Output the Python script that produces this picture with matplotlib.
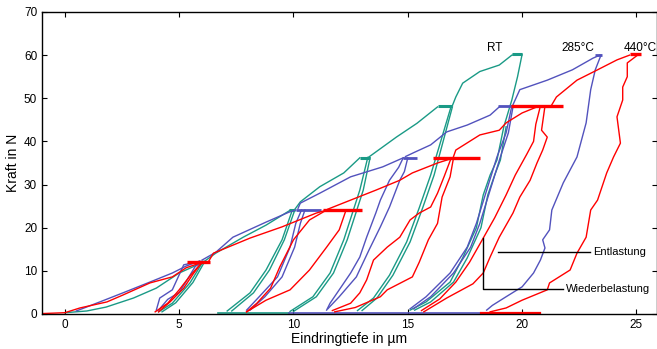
import numpy as np
import matplotlib.pyplot as plt

plt.rcParams['font.family'] = ['Liberation Sans', 'DejaVu Sans']

# -------------------------
# Data (depth in um, force in N)
# -------------------------
c_rt = '#1a9a86'
c_285 = '#5252bd'
c_440 = '#ff0000'

# RT: loading, unloading and reloading branches
rt_curves = [
    [(0, 0.3), (0.96, 0.7), (1.8, 1.6), (3.0, 3.7), (4.0, 6.0), (5.0, 9.5), (5.8, 11.4), (5.95, 12.0)],
    [(6.05, 12.2), (5.47, 7.2), (4.7, 2.5), (4.1, 0.5)],
    [(4.25, 0.5), (4.85, 2.6), (5.6, 7.3), (6.1, 12.0)],
    [(6.1, 12.2), (6.6, 14.1), (7.8, 17.8), (8.8, 20.6), (9.84, 24.0)],
    [(9.95, 24.1), (9.5, 17.2), (8.8, 10.2), (8.1, 4.9), (7.1, 0.7)],
    [(7.3, 0.7), (8.25, 4.9), (8.95, 10.2), (9.6, 17.2), (10.05, 24.0)],
    [(10.05, 24.2), (10.3, 26.0), (11.15, 29.5), (12.2, 32.7), (12.9, 36.2)],
    [(13.25, 36.3), (12.9, 28.7), (12.2, 17.2), (11.6, 9.5), (10.85, 4.0), (9.85, 0.6)],
    [(10.0, 0.6), (11.0, 4.0), (11.75, 9.5), (12.35, 17.2), (13.05, 28.7), (13.35, 36.2)],
    [(13.3, 36.4), (14.5, 41.0), (15.4, 44.2), (16.3, 48.0)],
    [(16.9, 48.2), (16.0, 32.2), (15.5, 24.6), (14.95, 16.7), (14.2, 9.0), (13.5, 3.7), (12.8, 0.8)],
    [(13.0, 0.8), (13.65, 3.7), (14.35, 9.0), (15.1, 16.7), (15.65, 24.6), (16.15, 32.2), (16.95, 48.0)],
    [(16.95, 48.3), (17.1, 50.3), (17.4, 53.5), (18.15, 56.2), (19.0, 57.7), (19.55, 60.0), (19.9, 60.2)],
    [(20.0, 60.2), (19.8, 55.0), (19.55, 49.6), (19.2, 43.4), (18.9, 35.7), (18.6, 32.2), (18.3, 27.6),
     (18.0, 20.0), (17.4, 13.0), (16.85, 7.4), (15.8, 2.8), (15.1, 0.9)],
    [(15.3, 0.9), (16.0, 2.8), (17.0, 7.4), (17.6, 13.0), (18.2, 20.0), (18.5, 27.6), (18.8, 32.2),
     (19.05, 35.7), (19.3, 43.4)],
]
rt_holds = [(5.85, 6.1, 12.1), (9.8, 10.05, 24.1), (12.9, 13.35, 36.2), (16.3, 16.95, 48.2), (19.55, 20.0, 60.2)]
rt_base = (6.7, 9.8)

# 285 degC
t285_curves = [
    [(0.5, 0.7), (1.53, 2.8), (2.54, 4.9), (3.72, 7.4), (4.7, 9.5), (5.3, 11.1), (5.9, 12.3)],
    [(5.9, 12.2), (5.2, 11.4), (4.7, 5.6), (4.15, 3.7), (4.0, 0.9)],
    [(4.1, 0.9), (4.5, 3.4), (5.0, 5.0), (5.3, 7.5), (5.7, 11.0), (6.0, 12.2)],
    [(6.0, 12.5), (6.6, 14.3), (7.35, 17.8), (8.8, 21.3), (9.8, 23.6), (10.1, 24.1)],
    [(10.35, 24.1), (10.1, 21.0), (9.85, 15.5), (9.3, 8.6), (8.5, 4.0), (7.95, 0.9)],
    [(8.1, 0.9), (8.75, 4.0), (9.5, 8.6), (10.05, 15.5), (10.3, 21.0), (10.5, 24.1)],
    [(10.2, 24.5), (10.3, 25.7), (11.15, 28.0), (12.5, 31.8), (13.9, 34.1), (14.8, 36.2)],
    [(15.0, 36.2), (14.85, 33.0), (14.65, 31.0), (14.2, 24.8), (13.8, 20.2), (13.3, 14.8), (12.75, 8.6),
     (12.0, 4.0), (11.5, 1.2)],
    [(11.45, 0.9), (11.6, 2.5), (12.0, 5.6), (12.5, 9.5), (12.9, 13.2), (13.2, 17.8), (13.6, 23.4),
     (13.8, 26.4), (14.2, 31.0), (14.6, 34.0), (14.8, 36.2)],
    [(14.9, 36.5), (15.3, 37.5), (16.0, 39.2), (16.7, 42.2), (17.6, 43.8), (18.6, 46.1), (19.0, 48.0)],
    [(19.55, 48.2), (19.3, 42.0), (18.9, 36.4), (18.45, 28.7), (18.0, 21.0), (17.6, 15.5), (16.85, 9.5),
     (15.8, 4.0), (15.1, 1.2)],
    [(15.25, 1.2), (16.0, 4.0), (17.0, 9.5), (17.75, 15.5), (18.15, 21.0), (18.6, 28.7), (19.05, 36.4),
     (19.4, 42.0), (19.6, 48.0)],
    [(19.6, 48.5), (19.9, 52.0), (21.1, 54.2), (22.2, 56.6), (23.1, 59.3), (23.4, 60.0)],
    [(23.45, 60.0), (23.2, 56.6), (23.0, 52.0), (22.8, 44.3), (22.4, 36.4), (21.8, 30.4), (21.3, 24.1),
     (21.2, 19.5), (20.9, 17.2), (21.0, 15.3), (20.8, 12.5), (20.5, 9.5), (20.0, 6.3), (19.3, 4.0),
     (18.7, 2.0), (18.45, 0.9)],
]
t285_holds = [(10.1, 11.2, 24.1), (14.8, 15.4, 36.2), (18.95, 19.6, 48.2), (23.2, 23.5, 60.0)]
t285_base = (9.8, 18.6)

# 440 degC
t440_curves = [
    [(-1.0, 0.1), (0, 0.3), (0.66, 1.4), (1.84, 2.8), (2.54, 4.4), (3.72, 7.2), (4.7, 8.6), (5.3, 10.7),
     (5.9, 11.8)],
    [(6.0, 12.0), (5.5, 9.0), (5.0, 5.6), (4.5, 2.5), (3.95, 0.5)],
    [(4.1, 0.5), (4.6, 2.8), (5.2, 6.0), (5.6, 9.2), (6.0, 12.0)],
    [(6.3, 12.3), (6.5, 14.1), (8.1, 17.6), (9.5, 20.2), (11.0, 23.4), (11.4, 24.0)],
    [(12.3, 24.1), (12.0, 19.5), (11.45, 15.5), (10.7, 10.2), (9.85, 5.6), (8.8, 3.2), (7.95, 0.5)],
    [(7.95, 0.5), (8.4, 2.5), (9.0, 6.0), (9.4, 10.9), (10.0, 17.2), (10.7, 21.8), (11.45, 24.1)],
    [(11.5, 24.3), (12.5, 26.4), (13.6, 28.7), (14.65, 31.0), (15.2, 32.7), (16.3, 35.0), (16.9, 36.0)],
    [(17.0, 36.2), (16.85, 31.8), (16.5, 27.1), (16.3, 21.0), (15.9, 17.2), (15.5, 12.0), (15.2, 8.6),
     (14.1, 5.6), (13.8, 4.0), (12.7, 1.5), (11.8, 0.5)],
    [(11.7, 0.8), (12.5, 2.5), (12.9, 4.9), (13.2, 7.9), (13.5, 12.5), (14.1, 15.5), (14.65, 17.8),
     (15.1, 21.8), (15.5, 23.4), (16.0, 24.8), (16.3, 28.0), (16.6, 32.0), (16.9, 36.2)],
    [(17.0, 36.5), (17.1, 38.0), (18.15, 41.5), (19.0, 42.6), (19.3, 44.3), (20.0, 46.6), (20.65, 48.0)],
    [(21.0, 48.2), (20.85, 42.6), (21.1, 41.0), (20.9, 38.0), (20.65, 35.0), (20.35, 31.0), (19.9, 27.1),
     (19.6, 23.4), (19.0, 17.8), (18.6, 13.2), (18.3, 9.5), (17.85, 7.0), (16.7, 3.7), (15.7, 0.5)],
    [(15.6, 0.8), (16.4, 3.5), (17.1, 7.4), (17.7, 12.0), (18.3, 17.6), (18.8, 22.3), (19.3, 27.6),
     (19.7, 32.2), (20.2, 37.0), (20.5, 40.0), (20.6, 44.0), (20.8, 48.2)],
    [(21.3, 48.5), (21.5, 50.3), (22.4, 54.2), (23.3, 56.6), (24.15, 58.9), (24.7, 60.0)],
    [(25.1, 60.2), (24.6, 58.2), (24.6, 55.0), (24.4, 52.6), (24.4, 49.6), (24.15, 45.7), (24.3, 39.6),
     (24.0, 36.4), (23.7, 32.7), (23.3, 26.4), (23.0, 24.1), (22.8, 17.8), (22.4, 14.1), (22.1, 10.2),
     (21.2, 7.2), (21.1, 5.6), (20.0, 3.2), (19.3, 1.4), (18.6, 0.5)],
]
t440_holds = [(5.35, 6.35, 12.0), (11.3, 13.0, 24.1), (16.1, 18.15, 36.2), (19.5, 21.8, 48.2), (24.7, 25.2, 60.2)]
t440_base = (18.2, 20.8)

series = [
    (rt_curves, rt_holds, rt_base, c_rt, 2.2),
    (t285_curves, t285_holds, t285_base, c_285, 2.0),
    (t440_curves, t440_holds, t440_base, c_440, 2.4),
]

# -------------------------
# Plot
# -------------------------
fig = plt.figure(figsize=(6.57, 3.49), dpi=100)
ax = fig.add_axes([42 / 657, 35 / 349, 615 / 657, 302 / 349])

for curves, holds, base, col, hlw in series:
    for seg in curves:
        seg = np.array(seg)
        ax.plot(seg[:, 0], seg[:, 1], color=col, lw=1.0)
    for x0, x1, f in holds:
        ax.plot([x0, x1], [f, f], color=col, lw=hlw, solid_capstyle='butt')
    ax.plot(base, [0.15, 0.15], color=col, lw=1.6 if col == c_440 else 1.2)

# labels at the curve ends
ax.text(18.8, 61.6, 'RT', ha='center', va='center', fontsize=8.5)
ax.text(22.45, 61.6, '285°C', ha='center', va='center', fontsize=8.5)
ax.text(25.15, 61.6, '440°C', ha='center', va='center', fontsize=8.5)

# annotation
ax.plot([18.94, 22.97], [14.4, 14.4], color='black', lw=1)
ax.text(23.1, 14.4, 'Entlastung', va='center', ha='left', fontsize=8)
ax.plot([18.29, 18.29, 21.8], [17.6, 5.8, 5.8], color='black', lw=1)
ax.text(21.9, 5.8, 'Wiederbelastung', va='center', ha='left', fontsize=8)

ax.set_xlim(-1, 25.9)
ax.set_ylim(0, 70)
ax.set_xticks([0, 5, 10, 15, 20, 25])
ax.set_yticks(np.arange(0, 71, 10))
ax.tick_params(direction='in', top=True, right=True, length=3.5, width=0.8, labelsize=8.5)
for s in ax.spines.values():
    s.set_linewidth(1.0)
ax.set_xlabel('Eindringtiefe in µm', fontsize=10, labelpad=1)
ax.set_ylabel('Kraft in N', fontsize=10, labelpad=3)

fig.savefig('out.png', dpi=100)
